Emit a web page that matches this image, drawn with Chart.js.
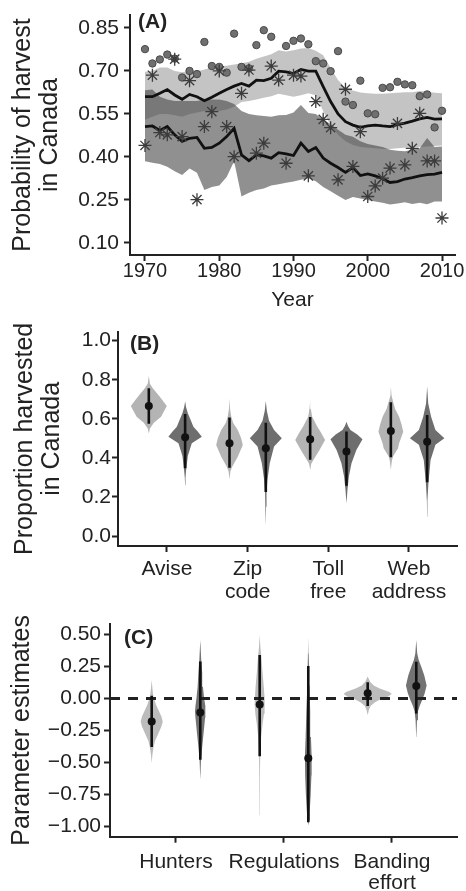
<!DOCTYPE html>
<html><head><meta charset="utf-8">
<script src="https://cdn.jsdelivr.net/npm/chart.js@4.4.1/dist/chart.umd.min.js"></script>
<style>
html,body{margin:0;padding:0;background:#fff;}
#wrap{position:relative;width:466px;height:891px;overflow:hidden;background:#fff;}
canvas{position:absolute;left:0;top:0;}
</style></head><body>
<div id="wrap">
<canvas id="cA" width="466" height="891"></canvas>
<canvas id="cB" width="466" height="891"></canvas>
<canvas id="cC" width="466" height="891"></canvas>
</div>
<script>
// ---------------- Panel A data ----------------
const years = [1970,1971,1972,1973,1974,1975,1976,1977,1978,1979,1980,1981,1982,1983,1984,1985,1986,1987,1988,1989,1990,1991,1992,1993,1994,1995,1996,1997,1998,1999,2000,2001,2002,2003,2004,2005,2006,2007,2008,2009,2010];
const yearTicks = [1970,1980,1990,2000,2010];
const probTicks = [0.10,0.25,0.40,0.55,0.70,0.85];
const upperMean = [0.610,0.610,0.622,0.635,0.616,0.601,0.618,0.610,0.596,0.608,0.622,0.635,0.647,0.656,0.647,0.668,0.666,0.674,0.699,0.697,0.691,0.705,0.699,0.699,0.645,0.593,0.550,0.523,0.511,0.503,0.508,0.511,0.508,0.506,0.513,0.518,0.525,0.533,0.538,0.532,0.533];
const upperHi = [0.697,0.700,0.712,0.712,0.700,0.695,0.700,0.698,0.705,0.712,0.716,0.718,0.722,0.727,0.732,0.742,0.750,0.758,0.772,0.768,0.772,0.778,0.780,0.770,0.755,0.710,0.668,0.640,0.632,0.625,0.622,0.620,0.620,0.622,0.624,0.626,0.626,0.630,0.628,0.624,0.622];
const upperLo = [0.530,0.540,0.550,0.550,0.545,0.540,0.550,0.555,0.560,0.555,0.560,0.565,0.575,0.592,0.595,0.600,0.606,0.612,0.620,0.615,0.610,0.615,0.622,0.615,0.560,0.510,0.477,0.455,0.442,0.435,0.432,0.430,0.428,0.428,0.430,0.432,0.433,0.435,0.436,0.438,0.440];
const lowerMean = [0.506,0.508,0.492,0.506,0.477,0.454,0.465,0.468,0.430,0.433,0.448,0.471,0.500,0.407,0.387,0.407,0.404,0.396,0.415,0.411,0.405,0.448,0.419,0.433,0.396,0.378,0.363,0.346,0.363,0.335,0.341,0.334,0.324,0.311,0.314,0.323,0.328,0.334,0.338,0.340,0.346];
const lowerHi = [0.633,0.635,0.610,0.600,0.595,0.595,0.595,0.595,0.600,0.600,0.600,0.595,0.585,0.560,0.550,0.545,0.543,0.540,0.545,0.546,0.555,0.581,0.553,0.550,0.530,0.515,0.495,0.477,0.470,0.455,0.445,0.440,0.435,0.425,0.422,0.420,0.425,0.430,0.466,0.435,0.436];
const lowerLo = [0.385,0.380,0.375,0.366,0.350,0.337,0.360,0.345,0.285,0.295,0.300,0.330,0.385,0.262,0.275,0.285,0.290,0.300,0.305,0.310,0.314,0.320,0.326,0.315,0.295,0.280,0.265,0.250,0.260,0.255,0.250,0.245,0.240,0.234,0.238,0.242,0.236,0.240,0.235,0.245,0.245];
const dotObs = [0.776,0.726,0.740,0.757,0.743,0.677,0.700,0.689,0.801,0.717,0.714,0.694,0.830,0.714,0.709,0.790,0.842,0.819,null,0.787,0.805,0.813,0.793,0.734,0.726,0.699,0.769,0.593,0.581,0.666,0.552,0.549,0.641,0.643,0.662,0.653,0.650,0.612,0.618,0.503,0.561];
const starObs = [0.440,0.685,0.485,0.477,0.741,0.471,0.666,0.251,0.506,0.558,0.700,0.506,0.401,0.622,0.703,0.413,0.448,0.717,0.668,0.378,0.685,0.682,0.334,0.593,0.531,0.502,0.320,0.636,0.367,0.488,0.262,0.299,0.326,0.361,0.517,0.372,0.430,0.552,0.386,0.386,0.187];

// ---------------- Panel B data ----------------
const bCategories = [['Avise'], ['Zip', 'code'], ['Toll', 'free'], ['Web', 'address']];
const bTicks = [0.0, 0.2, 0.4, 0.6, 0.8, 1.0];
const bLightMedian = [0.666, 0.475, 0.496, 0.538];
const bLightLow = [0.575, 0.350, 0.390, 0.403];
const bLightHigh = [0.756, 0.607, 0.609, 0.685];
const bDarkMedian = [0.506, 0.450, 0.433, 0.483];
const bDarkLow = [0.347, 0.225, 0.258, 0.275];
const bDarkHigh = [0.625, 0.580, 0.535, 0.620];
// violin outlines: [value, relative density]
const bLightShape = [
  [[0.525,0],[0.55,0.06],[0.58,0.28],[0.611,0.68],[0.666,1.0],[0.714,0.6],[0.757,0.22],[0.78,0.06],[0.82,0]],
  [[0.29,0],[0.33,0.05],[0.355,0.15],[0.406,0.46],[0.466,0.74],[0.50,0.65],[0.543,0.46],[0.58,0.2],[0.611,0.1],[0.65,0.03],[0.705,0]],
  [[0.338,0],[0.37,0.06],[0.389,0.18],[0.44,0.52],[0.492,0.83],[0.53,0.6],[0.56,0.4],[0.611,0.11],[0.65,0.04],[0.691,0]],
  [[0.338,0],[0.38,0.05],[0.406,0.11],[0.45,0.4],[0.475,0.46],[0.534,0.69],[0.57,0.6],[0.611,0.46],[0.65,0.24],[0.679,0.15],[0.72,0.04],[0.765,0]]
];
const bDarkShape = [
  [[0.26,0],[0.30,0.02],[0.34,0.06],[0.41,0.15],[0.475,0.37],[0.508,0.93],[0.535,0.7],[0.56,0.46],[0.60,0.28],[0.628,0.15],[0.66,0.05],[0.69,0]],
  [[0.065,0],[0.15,0.015],[0.219,0.04],[0.287,0.09],[0.372,0.22],[0.458,0.46],[0.50,0.89],[0.543,0.46],[0.59,0.18],[0.64,0.06],[0.691,0]],
  [[0.167,0],[0.236,0.055],[0.304,0.13],[0.372,0.28],[0.44,0.55],[0.495,0.89],[0.52,0.6],[0.543,0.22],[0.565,0.08],[0.585,0]],
  [[0.099,0],[0.18,0.015],[0.27,0.07],[0.389,0.19],[0.467,0.46],[0.50,0.96],[0.543,0.46],[0.611,0.22],[0.679,0.06],[0.765,0]]
];

// ---------------- Panel C data ----------------
const cCategories = [['Hunters'], ['Regulations'], ['Banding', 'effort']];
const cTicks = [-1.00, -0.75, -0.50, -0.25, 0.00, 0.25, 0.50];
const cLightMedian = [-0.180, -0.048, 0.040];
const cLightLow = [-0.378, -0.450, -0.060];
const cLightHigh = [0.020, 0.338, 0.125];
const cDarkMedian = [-0.110, -0.466, 0.097];
const cDarkLow = [-0.478, -0.965, -0.118];
const cDarkHigh = [0.288, 0.253, 0.286];
const cLightShape = [
  [[-0.506,0],[-0.44,0.03],[-0.376,0.08],[-0.33,0.14],[-0.272,0.28],[-0.22,0.4],[-0.18,0.46],[-0.14,0.4],[-0.09,0.28],[-0.05,0.18],[0.013,0.07],[0.08,0.03],[0.144,0]],
  [[-0.91,0],[-0.6,0.01],[-0.43,0.025],[-0.3,0.06],[-0.2,0.12],[-0.12,0.18],[-0.05,0.21],[0.0,0.2],[0.09,0.17],[0.2,0.12],[0.3,0.08],[0.4,0.03],[0.495,0]],
  [[-0.13,0],[-0.09,0.05],[-0.06,0.12],[-0.03,0.3],[0.0,0.6],[0.015,0.85],[0.035,1.0],[0.05,0.9],[0.077,0.5],[0.10,0.25],[0.13,0.1],[0.17,0]]
];
const cDarkShape = [
  [[-0.636,0],[-0.48,0.03],[-0.376,0.08],[-0.246,0.15],[-0.15,0.2],[-0.10,0.22],[-0.06,0.2],[0.0,0.16],[0.09,0.11],[0.20,0.08],[0.30,0.04],[0.455,0]],
  [[-0.99,0],[-0.95,0.03],[-0.88,0.06],[-0.75,0.1],[-0.6,0.13],[-0.45,0.14],[-0.3,0.11],[-0.1,0.08],[0.1,0.05],[0.25,0.03],[0.35,0.015],[0.48,0]],
  [[-0.30,0],[-0.27,0.01],[-0.17,0.03],[-0.10,0.07],[-0.06,0.14],[-0.01,0.25],[0.04,0.35],[0.10,0.43],[0.18,0.33],[0.25,0.2],[0.30,0.1],[0.35,0.04],[0.455,0]]
];

// ---------------- styling / helpers ----------------
const FONT = "'Liberation Sans', Arial, Helvetica, sans-serif";
const INK = '#222222';
Chart.defaults.font.family = FONT;
Chart.defaults.color = INK;
const DODGE = 0.225;      // offset of the two groups from the category tick (x units)
const VIOLIN_W = 0.223;   // x units per unit of relative density

const panelLabel = {
  id: 'panelLabel',
  afterDraw(chart, args, o) {
    const {ctx, chartArea} = chart;
    ctx.save();
    ctx.font = 'bold ' + o.size + 'px ' + FONT;
    ctx.fillStyle = INK;
    ctx.textBaseline = 'middle';
    ctx.textAlign = 'left';
    ctx.fillText(o.text, chartArea.left + o.dx, chartArea.top + o.dy);
    ctx.restore();
  }
};

function fixBox(size) {
  return s => {
    if (s.isHorizontal()) s.height = size; else s.width = size;
    s.paddingLeft = 0; s.paddingRight = 0; s.paddingTop = 0; s.paddingBottom = 0;
  };
}
const gridOpts = {drawOnChartArea: false, drawTicks: true, tickLength: 6, tickWidth: 2, tickColor: INK};
const borderOpts = {display: true, color: INK, width: 2};
const minus = s => s.replace('-', '\u2212');

function baseOptions(label) {
  return {
    responsive: false, animation: false, devicePixelRatio: 1,
    events: [],
    plugins: {legend: {display: false}, tooltip: {enabled: false}, panelLabel: label},
  };
}

function violinOutline(center, profile) {
  const right = profile.map(p => ({x: center + p[1] * VIOLIN_W, y: p[0]}));
  const left = profile.slice().reverse().map(p => ({x: center - p[1] * VIOLIN_W, y: p[0]}));
  return right.concat(left);
}

function violinDatasets(lightShape, darkShape, lightMed, lightLo, lightHi, darkMed, darkLo, darkHi, lightColor, darkColor) {
  const ds = [];
  const groups = [
    {shape: lightShape, med: lightMed, lo: lightLo, hi: lightHi, color: lightColor, off: -DODGE},
    {shape: darkShape, med: darkMed, lo: darkLo, hi: darkHi, color: darkColor, off: DODGE}
  ];
  const medians = [];
  groups.forEach(g => {
    g.shape.forEach((prof, i) => {
      const c = i + 1 + g.off;
      ds.push({data: violinOutline(c, prof), fill: 'shape', backgroundColor: g.color,
               borderWidth: 0, pointRadius: 0, tension: 0, order: 30});
      ds.push({data: [{x: c, y: g.lo[i]}, {x: c, y: g.hi[i]}], borderColor: '#111', borderWidth: 2.6,
               pointRadius: 0, fill: false, order: 10, borderCapStyle: 'butt'});
      medians.push({x: c, y: g.med[i]});
    });
  });
  ds.push({data: medians, showLine: false, pointRadius: 4, pointStyle: 'circle',
           pointBackgroundColor: '#111', pointBorderColor: '#111', pointBorderWidth: 0, order: 0});
  return ds;
}

// ---------------- Chart A ----------------
const pts = vals => years.map((x, i) => ({x: x, y: vals[i]}));
const A_LEFT = 130, A_TOP = 15, A_RIGHT = 455, A_BOTTOM = 255, A_XH = 60;
new Chart(document.getElementById('cA'), {
  type: 'line',
  data: {datasets: [
    {data: pts(upperHi), fill: '+1', backgroundColor: '#c4c4c4', borderWidth: 0, pointRadius: 0, order: 40},
    {data: pts(upperLo), fill: false, borderWidth: 0, pointRadius: 0, order: 40},
    {data: pts(lowerHi), fill: '+1', backgroundColor: 'rgba(70,70,70,0.60)', borderWidth: 0, pointRadius: 0, order: 30},
    {data: pts(lowerLo), fill: false, borderWidth: 0, pointRadius: 0, order: 30},
    {data: pts(upperMean), fill: false, borderColor: '#111', borderWidth: 2.8, pointRadius: 0, order: 20},
    {data: pts(lowerMean), fill: false, borderColor: '#111', borderWidth: 2.8, pointRadius: 0, order: 20},
    {data: pts(dotObs), showLine: false, pointStyle: 'circle', pointRadius: 3.7,
     pointBackgroundColor: '#707070', pointBorderColor: '#4a4a4a', pointBorderWidth: 1, order: 10},
    {data: pts(starObs), showLine: false, pointStyle: 'star', pointRadius: 6.5,
     pointBorderColor: '#3c3c3c', pointBackgroundColor: '#3c3c3c', pointBorderWidth: 1.3, order: 5}
  ]},
  options: Object.assign(baseOptions({text: '(A)', dx: 8, dy: 7, size: 21}), {
    layout: {padding: {left: 0, top: A_TOP, right: 466 - A_RIGHT, bottom: 891 - A_BOTTOM - A_XH}},
    scales: {
      x: {type: 'linear', min: 1967.98, max: 2011.75,
          afterBuildTicks: s => { s.ticks = yearTicks.map(v => ({value: v})); },
          afterFit: fixBox(A_XH),
          ticks: {callback: v => String(v), font: {size: 20, lineHeight: 1}, color: INK, padding: 0, maxRotation: 0},
          grid: gridOpts, border: borderOpts,
          title: {display: true, text: 'Year', font: {size: 21, lineHeight: 1.15}, color: INK, padding: {top: 0, bottom: 3}}},
      y: {type: 'linear', min: 0.058, max: 0.895,
          afterBuildTicks: s => { s.ticks = probTicks.map(v => ({value: v})); },
          afterFit: fixBox(A_LEFT),
          ticks: {callback: v => v.toFixed(2), font: {size: 21, lineHeight: 1}, color: INK, padding: 5},
          grid: gridOpts, border: borderOpts,
          title: {display: true, text: ['Probability of harvest', 'in Canada'], font: {size: 25, lineHeight: 1.1}, color: INK, padding: {top: 9.25, bottom: 0}}}
    }
  }),
  plugins: [panelLabel]
});

// ---------------- Chart B ----------------
const B_LEFT = 118, B_TOP = 331.7, B_RIGHT = 457, B_BOTTOM = 546, B_XH = 60;
new Chart(document.getElementById('cB'), {
  type: 'line',
  data: {datasets: violinDatasets(bLightShape, bDarkShape, bLightMedian, bLightLow, bLightHigh,
                                  bDarkMedian, bDarkLow, bDarkHigh, '#b4b4b4', '#6e6e6e')},
  options: Object.assign(baseOptions({text: '(B)', dx: 12, dy: 13, size: 21}), {
    layout: {padding: {left: 0, top: B_TOP, right: 466 - B_RIGHT, bottom: 891 - B_BOTTOM - B_XH}},
    scales: {
      x: {type: 'linear', min: 0.393, max: 4.595,
          afterBuildTicks: s => { s.ticks = bCategories.map((c, i) => ({value: i + 1})); },
          afterFit: fixBox(B_XH),
          ticks: {callback: (v, i) => bCategories[i], font: {size: 21, lineHeight: 1.11}, color: INK, padding: 5.6, maxRotation: 0, autoSkip: false},
          grid: gridOpts, border: borderOpts},
      y: {type: 'linear', min: -0.051, max: 1.046,
          afterBuildTicks: s => { s.ticks = bTicks.map(v => ({value: v})); },
          afterFit: fixBox(B_LEFT),
          ticks: {callback: v => v.toFixed(1), font: {size: 21, lineHeight: 1}, color: INK, padding: 1},
          grid: gridOpts, border: borderOpts,
          title: {display: true, text: ['Proportion harvested', 'in Canada'], font: {size: 25, lineHeight: 1.1}, color: INK, padding: {top: 11.25, bottom: 0}}}
    }
  }),
  plugins: [panelLabel]
});

// ---------------- Chart C ----------------
const C_LEFT = 110, C_TOP = 624, C_RIGHT = 457, C_BOTTOM = 836.7, C_XH = 54.3;
const C_XMIN = 0.389, C_XMAX = 3.602;
const cSets = violinDatasets(cLightShape, cDarkShape, cLightMedian, cLightLow, cLightHigh,
                             cDarkMedian, cDarkLow, cDarkHigh, '#bcbcbc', '#737373');
cSets.push({data: [{x: C_XMIN, y: 0}, {x: C_XMAX, y: 0}], borderColor: '#222', borderWidth: 3,
            borderDash: [10, 8], pointRadius: 0, fill: false, order: 20, borderCapStyle: 'butt'});
new Chart(document.getElementById('cC'), {
  type: 'line',
  data: {datasets: cSets},
  options: Object.assign(baseOptions({text: '(C)', dx: 14, dy: 14, size: 21}), {
    layout: {padding: {left: 0, top: C_TOP, right: 466 - C_RIGHT, bottom: 891 - C_BOTTOM - C_XH}},
    scales: {
      x: {type: 'linear', min: C_XMIN, max: C_XMAX,
          afterBuildTicks: s => { s.ticks = cCategories.map((c, i) => ({value: i + 1})); },
          afterFit: fixBox(C_XH),
          ticks: {callback: (v, i) => cCategories[i], font: {size: 21, lineHeight: 1.03}, color: INK, padding: 8.2, maxRotation: 0, autoSkip: false},
          grid: gridOpts, border: borderOpts},
      y: {type: 'linear', min: -1.078, max: 0.58,
          afterBuildTicks: s => { s.ticks = cTicks.map(v => ({value: v})); },
          afterFit: fixBox(C_LEFT),
          ticks: {callback: v => minus(v.toFixed(2)), font: {size: 21, lineHeight: 1}, color: INK, padding: 3},
          grid: gridOpts, border: borderOpts,
          title: {display: true, text: 'Parameter estimates', font: {size: 25, lineHeight: 1.1}, color: INK, padding: {top: 8.25, bottom: 0}}}
    }
  }),
  plugins: [panelLabel]
});
</script>
</body></html>
